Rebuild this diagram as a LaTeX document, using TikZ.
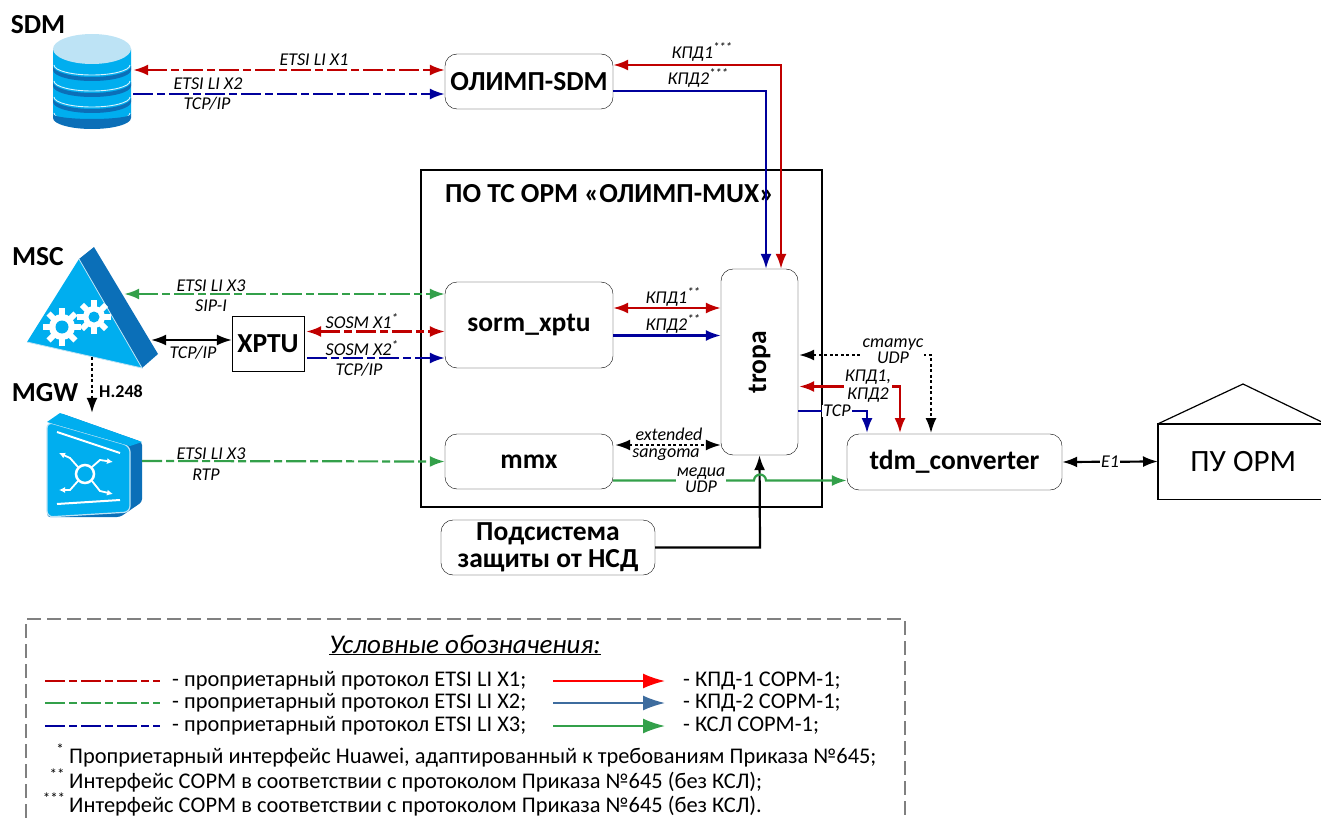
\documentclass[tikz,border=0pt]{standalone}
\usepackage{fontspec}
\setmainfont{Carlito}
\usepackage{tikz}
\usetikzlibrary{arrows.meta,positioning,calc}
\definecolor{iconblue}{HTML}{00AEEF}
\definecolor{icondark}{HTML}{0B6FB8}
\definecolor{icontop}{HTML}{BDE3F5}
\definecolor{kpdred}{HTML}{C00000}
\definecolor{kpdblue}{HTML}{00009C}
\definecolor{kslgreen}{HTML}{33A04A}
\definecolor{legblue}{HTML}{3E6C9E}
\newcommand{\lblsize}{\fontsize{18}{16}\selectfont\itshape}
\newcommand{\boxsize}{\fontsize{27.5}{27}\selectfont\bfseries}
\newcommand{\legsize}{\fontsize{22.4}{24}\selectfont}

\begin{document}
\begin{tikzpicture}[x=1pt,y=-1pt,
  block/.style={draw, rounded corners=12pt, font=\boxsize, align=center, inner sep=0pt},
  icon/.style={inner sep=0pt},
  lbl/.style={font=\lblsize, inner sep=1pt, align=center},
  cutlbl/.style={lbl, fill=white},
  headlbl/.style={font=\boxsize, inner sep=0pt},
  legtext/.style={font=\legsize, anchor=west, inner sep=0pt},
  dashline/.style={line width=2.2pt, dash pattern=on 20pt off 4pt on 8pt off 4pt},
  tip/.style={{Latex[length=15pt,width=11pt]}-{Latex[length=15pt,width=11pt]}},
  rtip/.style={-{Latex[length=15pt,width=11pt]}},
  solidline/.style={line width=2.2pt},
  dotline/.style={line width=1.8pt, dash pattern=on 3pt off 2.5pt}
]
  \useasboundingbox (0,0) rectangle (1321,818);

  % icons
  \fill[iconblue] (53,49) -- (53,114) arc[start angle=180,end angle=360,x radius=39pt,y radius=14pt] -- (131,49) -- cycle;
  \foreach \yy in {66,82,98,114} {
    \fill[icondark] (53,\yy) arc[start angle=180,end angle=360,x radius=39pt,y radius=11pt]
      -- (131,\yy+4) arc[start angle=0,end angle=-180,x radius=39pt,y radius=11pt] -- cycle;
    \draw[white!85!iconblue, line width=0.9pt] (54,\yy-1) arc[start angle=180,end angle=360,x radius=38pt,y radius=10pt];
  }
  \fill[icondark] (53,114) arc[start angle=180,end angle=360,x radius=39pt,y radius=14pt] -- (131,114) arc[start angle=0,end angle=-180,x radius=39pt,y radius=5pt] -- cycle;
  \fill[icontop] (92,49) ellipse[x radius=39pt,y radius=15pt];
  \node[icon, minimum width=78pt, minimum height=93pt] (sdm) at (92,81.5) {};

  \fill[icondark] (79,259) -- (94,247) -- (158,354) -- (142,368) -- cycle;
  \fill[iconblue] (79,259) -- (27,342) -- (142,368) -- cycle;
  \draw[icontop, line width=0.8pt] (27,342) -- (142,368) -- (79,259);
  \foreach \gx/\gy/\gr in {62/327/13, 94/317/11} {
    \foreach \ang in {0,45,...,315}
      \fill[white, rotate around={\ang:(\gx,\gy)}] (\gx-3,\gy-\gr-6) rectangle (\gx+3,\gy);
    \fill[white] (\gx,\gy) circle[radius=\gr pt];
    \fill[iconblue] (\gx,\gy) circle[radius=\gr pt*0.5];
  }
  \node[icon, minimum width=115pt, minimum height=60pt] (msc) at (92,327) {};

  \fill[icondark, rounded corners=3pt] (60,413) -- (142,442) -- (142,502) -- (120,517) -- (47,517) -- cycle;
  \fill[iconblue, draw=icontop, line width=1.2pt, rounded corners=6pt] (47,422) -- (130,446) -- (130,512) -- (47,517) -- cycle;
  \fill[iconblue] (47,422) -- (60,413) -- (142,442) -- (130,446) -- cycle;
  \draw[white, line width=2pt] (57,432) -- (120,453) (57,504) -- (120,500);
  \draw[white, line width=2.5pt] (85,474) circle[radius=9pt];
  \draw[white, line width=1.8pt, -{Latex[length=6pt,width=6pt]}] (78,467) -- (70,458) -- (59,453);
  \draw[white, line width=1.8pt, -{Latex[length=6pt,width=6pt]}] (92,467) -- (100,460) -- (113,462);
  \draw[white, line width=1.8pt, -{Latex[length=6pt,width=6pt]}] (78,481) -- (70,490) -- (59,490);
  \draw[white, line width=1.8pt, -{Latex[length=6pt,width=6pt]}] (92,481) -- (100,491) -- (113,494);
  \node[icon, minimum width=100pt, minimum height=104pt] (mgw) at (92,465) {};

  % blocks
  \node[draw, line width=1.4pt, minimum width=401pt, minimum height=337pt, inner sep=0pt] (mux) at (621.5,338.5) {};
  \node[headlbl, anchor=west] (muxtitle) at (445,194) {ПО ТС ОРМ «ОЛИМП-MUX»};
  \node[block, minimum width=168pt, minimum height=55pt] (olimp) at (529,81.5) {ОЛИМП-SDM};
  \node[block, minimum width=168pt, minimum height=86pt] (xptu) at (529,325) {sorm\_xptu};
  \node[block, minimum width=168pt, minimum height=55pt] (mmx) at (529,461.5) {mmx};
  \node[block, minimum width=77pt, minimum height=186pt] (tropa) at (759.5,362) {\rotatebox{90}{tropa}};
  \node[block, minimum width=215pt, minimum height=56pt] (tdm) at (954.5,462) {tdm\_converter};
  \node[block, minimum width=214pt, minimum height=55pt] (nsd) at (548,547.5) {Подсистема\\защиты от НСД};
  \node[draw, minimum width=72pt, minimum height=55pt, inner sep=0pt, font=\boxsize] (sosm) at (268,343.5) {XPTU};
  \node[anchor=west, minimum width=163pt, minimum height=75pt, inner sep=0pt, font=\fontsize{31}{33}\selectfont] (pu) at (1158,461.5) {\hspace*{7pt}ПУ ОРМ};
  \draw[line width=1.4pt] (pu.north east) -- (pu.north west) -- (pu.south west) -- (pu.south east);
  \draw[line width=1.2pt] (pu.north west) -- (1243,384) -- ([yshift=2pt]pu.north east);

  \node[headlbl] (sdmhead) at (38,25) {SDM};
  \node[headlbl] (mschead) at (38,257) {MSC};
  \node[headlbl] (mgwhead) at (45,393) {MGW};

  % interfaces
  \draw[dashline, kpdred, tip] ([xshift=2pt,yshift=11.5pt]sdm.east) -- ([yshift=11.5pt]olimp.west);
  \draw[dashline, kpdblue, rtip] ([xshift=2pt,yshift=-12.5pt]sdm.east) -- ([yshift=-12.5pt]olimp.west);
  \draw[dashline, kslgreen, tip] ([xshift=-25.5pt,yshift=33pt]msc.east) -- ([yshift=31pt]xptu.west);
  \draw[dashline, kslgreen, rtip] ([yshift=4pt]mgw.east) -- (mmx.west);
  \draw[dashline, kpdred, tip] ([xshift=2pt,yshift=12pt]sosm.east) -- ([yshift=-6.5pt]xptu.west);
  \draw[dashline, kpdblue, rtip] ([xshift=3pt,yshift=-14.5pt]sosm.east) -- ([yshift=-33pt]xptu.west);
  \draw[line width=1.8pt, black, tip] ([xshift=1.5pt,yshift=-13pt]msc.east) -- ([yshift=3.5pt]sosm.west);
  \draw[dotline, rtip] (msc.south) -- (mgw.north);

  \draw[solidline, kpdred, tip] ([yshift=16.5pt]olimp.east) -- (781,65) -- ([xshift=21.5pt]tropa.north);
  \draw[solidline, kpdblue, rtip] ([yshift=-9.5pt]olimp.east) -- (766,91) -- ([xshift=6.5pt]tropa.north);
  \draw[solidline, kpdred, tip] ([yshift=17pt]xptu.east) -- ([yshift=54pt]tropa.west);
  \draw[solidline, kpdblue, rtip] ([yshift=-10.5pt]xptu.east) -- ([yshift=26.5pt]tropa.west);
  \draw[dotline, tip] ([xshift=2pt,yshift=16.5pt]mmx.east) -- ([yshift=-83pt]tropa.west);
  \draw[solidline, black, rtip] (nsd.east) -- (760,547.5) -- (tropa.south);
  \draw[solidline, kslgreen, rtip] ([yshift=-19pt]mmx.east) -- (754,480.5) arc[start angle=180,end angle=0,radius=6pt] -- ([yshift=-18.5pt]tdm.west);
  \draw[dotline, tip] ([xshift=1pt,yshift=7pt]tropa.east) -- (931,355) -- (931,433);
  \draw[solidline, kpdred, tip] ([xshift=1pt,yshift=-24.5pt]tropa.east) -- (900,386.5) -- (900,433);
  \draw[solidline, kpdblue, rtip] ([yshift=-49pt]tropa.east) -- (867,411) -- (867,433);
  \draw[solidline, black, tip] (tdm.east) -- (pu.west);

  % labels
  \node[lbl] (lx1) at (314,60) {ETSI LI X1};
  \node[lbl] (lx2) at (208,84) {ETSI LI X2};
  \node[lbl] (ltcpa) at (207,104) {TCP/IP};
  \node[lbl] (lx3a) at (211,286) {ETSI LI X3};
  \node[lbl] (lsip) at (211,306) {SIP-I};
  \node[lbl] (ltcpb) at (193,353) {TCP/IP};
  \node[lbl] (lsa) at (362,321) {SOSM X1\textsuperscript{*}};
  \node[lbl] (lsb) at (362,348) {SOSM X2\textsuperscript{*}};
  \node[lbl] (ltcpc) at (359,370) {TCP/IP};
  \node[lbl] (lx3b) at (211,454) {ETSI LI X3};
  \node[lbl] (lrtp) at (206,475) {RTP};
  \node[font=\fontsize{18}{18}\selectfont\bfseries, inner sep=0pt] (lh) at (121,391) {H.248};
  \node[lbl] (lka) at (702,52) {КПД1\textsuperscript{***}};
  \node[lbl] (lkb) at (698,78) {КПД2\textsuperscript{***}};
  \node[lbl] (lkc) at (673,297) {КПД1\textsuperscript{**}};
  \node[lbl] (lkd) at (673,324) {КПД2\textsuperscript{**}};
  \node[lbl] (lext) at (669,434) {extended};
  \node[lbl] (lsan) at (666,455) {sangoma};
  \node[cutlbl, inner ysep=0pt] (lmed) at (701,480) {медиа\\UDP};
  \node[cutlbl, inner ysep=0pt] (lst) at (893,351) {статус\\UDP};
  \node[cutlbl, inner ysep=0pt] (lke) at (868,386) {КПД1,\\[2pt]КПД2};
  \node[cutlbl, inner ysep=0pt] (ltcp) at (837,411) {TCP};
  \node[cutlbl, inner ysep=0pt] (le1) at (1110,462) {E1};

  % legend
  \draw[gray, line width=1.3pt, dash pattern=on 14pt off 6pt] (26,818) -- (26,619) -- (905,619) -- (905,818);
  \node[font=\fontsize{27}{29}\selectfont\itshape, inner sep=0pt] (legtitle) at (465,645) {\underline{Условные обозначения:}};
  \foreach \yy/\col/\txt/\ar/\artxt [count=\i] in {
    681/kpdred/X1/red/КПД-1 СОРМ-1,
    703/kslgreen/X2/legblue/КПД-2 СОРМ-1,
    726/kpdblue/X3/kslgreen/КСЛ СОРМ-1} {
    \coordinate (ldash\i) at (45,\yy);
    \coordinate (larr\i) at (553,\yy);
    \draw[\col, dashline] (ldash\i) -- ++(115,0);
    \node[legtext] (ltext\i) at (172,\yy) {- проприетарный протокол ETSI LI \txt;};
    \draw[\ar, line width=1.8pt, -{Latex[length=22pt,width=15pt]}] (larr\i) -- ++(112,0);
    \node[legtext] (lkind\i) at (683,\yy) {- \artxt;};
  }
  \node[legtext] (fa) at (69,758) {Проприетарный интерфейс Huawei, адаптированный к требованиям Приказа №645;};
  \node[legtext] (fb) at (69,782) {Интерфейс СОРМ в соответствии с протоколом Приказа №645 (без КСЛ);};
  \node[legtext] (fc) at (69,806) {Интерфейс СОРМ в соответствии с протоколом Приказа №645 (без КСЛ).};
  \node[font=\fontsize{15}{15}\selectfont, inner sep=0pt] (sa) at (60,749) {*};
  \node[font=\fontsize{15}{15}\selectfont, inner sep=0pt] (sb) at (57,774) {**};
  \node[font=\fontsize{15}{15}\selectfont, inner sep=0pt] (sc) at (54,798) {***};
\end{tikzpicture}
\end{document}
